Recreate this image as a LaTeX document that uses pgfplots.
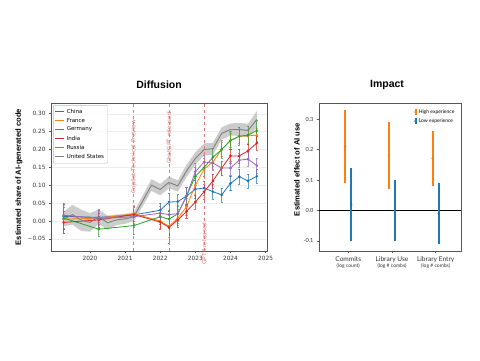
\documentclass[border=0pt]{standalone}
\usepackage{pgfplots}
\usepackage{pgfplotstable}
\pgfplotsset{compat=1.18}
\usepackage{fontspec}
\setmainfont{Liberation Sans}
\newfontfamily\dejavu{DejaVu Sans}
\newfontfamily\lato{Lato}
\definecolor{tabblue}{HTML}{1F77B4}
\definecolor{taborange}{HTML}{FF7F0E}
\definecolor{tabgreen}{HTML}{2CA02C}
\definecolor{tabred}{HTML}{D62728}
\definecolor{tabpurple}{HTML}{9467BD}
\definecolor{tabgray}{HTML}{7F7F7F}
\definecolor{axgray}{HTML}{555555}
\definecolor{evred}{HTML}{E07A7A}
\pgfplotstableread{
x y e
2019.25 0.013 0.035
2020.25 0.010 0.020
2021.25 0.017 0.025
2022.0 0.030 0.020
2022.25 0.053 0.025
2022.5 0.054 0.020
2022.75 0.070 0.025
2023.0 0.089 0.025
2023.25 0.092 0.020
2023.5 0.082 0.020
2023.75 0.073 0.020
2024.0 0.105 0.020
2024.25 0.124 0.020
2024.5 0.112 0.020
2024.75 0.125 0.020
}\chinatab
\pgfplotstableread{
x y e
2019.25 0.005 0.040
2020.25 0.008 0.020
2021.25 0.020 0.025
2022.0 0.000 0.020
2022.25 -0.015 0.030
2022.5 0.008 0.020
2022.75 0.040 0.025
2023.0 0.100 0.025
2023.25 0.145 0.020
2023.5 0.165 0.020
2023.75 0.200 0.020
2024.0 0.225 0.020
2024.25 0.237 0.020
2024.5 0.238 0.020
2024.75 0.240 0.020
}\francetab
\pgfplotstableread{
x y e
2019.25 0.008 0.030
2020.25 -0.023 0.020
2021.25 -0.013 0.025
2022.0 0.012 0.020
2022.25 0.005 0.025
2022.5 0.020 0.020
2022.75 0.070 0.025
2023.0 0.125 0.025
2023.25 0.150 0.025
2023.5 0.178 0.025
2023.75 0.200 0.025
2024.0 0.225 0.025
2024.25 0.237 0.025
2024.5 0.240 0.025
2024.75 0.253 0.030
}\germanytab
\pgfplotstableread{
x y e
2019.25 -0.004 0.030
2020.25 0.003 0.020
2021.25 0.018 0.020
2022.0 -0.003 0.020
2022.25 -0.018 0.045
2022.5 0.003 0.020
2022.75 0.027 0.020
2023.0 0.053 0.020
2023.25 0.082 0.020
2023.5 0.112 0.020
2023.75 0.148 0.020
2024.0 0.182 0.020
2024.25 0.182 0.020
2024.5 0.196 0.020
2024.75 0.218 0.020
}\indiatab
\pgfplotstableread{
x y e
2019.25 0.016 0.035
2020.25 0.007 0.025
2021.25 0.012 0.030
2022.0 0.022 0.020
2022.25 0.018 0.030
2022.5 0.020 0.025
2022.75 0.070 0.025
2023.0 0.138 0.025
2023.25 0.165 0.020
2023.5 0.162 0.020
2023.75 0.148 0.020
2024.0 0.148 0.020
2024.25 0.170 0.020
2024.5 0.173 0.020
2024.75 0.155 0.020
}\russiatab
\pgfplotstableread{
x y
2019.25 0.005
2019.5 0.018
2019.75 0.002
2020.0 -0.004
2020.25 0.012
2020.5 -0.005
2020.75 0.003
2021.0 0.006
2021.25 0.012
2021.75 0.100
2022.0 0.088
2022.25 0.108
2022.5 0.098
2022.75 0.140
2023.0 0.175
2023.25 0.200
2023.5 0.202
2023.75 0.245
2024.0 0.256
2024.25 0.256
2024.5 0.253
2024.75 0.284
}\usatab
\pgfplotstableread{
x y
2019.25 0.025
2019.5 0.045
2019.75 0.032
2020.0 0.022
2020.25 0.032
2020.5 0.015
2020.75 0.018
2021.0 0.020
2021.25 0.025
2021.75 0.117
2022.0 0.104
2022.25 0.124
2022.5 0.114
2022.75 0.157
2023.0 0.192
2023.25 0.217
2023.5 0.219
2023.75 0.262
2024.0 0.273
2024.25 0.274
2024.5 0.272
2024.75 0.307
2024.75 0.261
2024.5 0.234
2024.25 0.238
2024.0 0.239
2023.75 0.228
2023.5 0.185
2023.25 0.183
2023.0 0.158
2022.75 0.123
2022.5 0.082
2022.25 0.092
2022.0 0.072
2021.75 0.084
2021.25 -0.001
2021.0 -0.008
2020.75 -0.012
2020.5 -0.025
2020.25 -0.008
2020.0 -0.030
2019.75 -0.028
2019.5 -0.010
2019.25 -0.015
}\usabandtab
\pgfplotsset{
  series/.style={#1, mark=*, mark size=0.9pt, line width=0.8pt,
    error bars/.cd, y dir=both, y explicit,
    error bar style={#1, opacity=0.7, line width=1pt},
    error mark options={rotate=90, mark size=1.1pt, #1, opacity=0.7}},
  ebar/.style={#1, line width=2.2pt, forget plot},
}
\begin{document}
\begin{tikzpicture}
\path[use as bounding box, fill=white] (0,0) rectangle (480pt,360pt);
% ---------------- Diffusion ----------------
\begin{axis}[
  at={(51pt,109pt)}, anchor=south west,
  scale only axis, width=216pt, height=148pt,
  xmin=2018.89, xmax=2025.04, ymin=-0.084, ymax=0.33,
  xtick={2020,2021,2022,2023,2024,2025},
  ytick={-0.05,0,0.05,0.1,0.15,0.2,0.25,0.3},
  yticklabels={−0.05,0.00,0.05,0.10,0.15,0.20,0.25,0.30},
  x tick label style={/pgf/number format/1000 sep={}},
  /pgf/number format/assume math mode=true,
  tick label style={font=\dejavu\fontsize{5.8}{6}\selectfont, color=black!80},
  tick align=outside, tick pos=left, major tick length=2pt,
  axis line style={axgray, line width=0.8pt},
  every tick/.style={axgray, line width=0.5pt},
  ymajorgrids, grid style={black!7, line width=0.3pt},
  ylabel={Estimated share of AI-generated code},
  every axis y label/.style={at={(axis description cs:-0.148,0.5)}, rotate=90, anchor=center, font=\bfseries\fontsize{7.6}{8}\selectfont},
  legend style={at={(0.01,0.985)}, anchor=north west, draw=black!25, line width=0.4pt, rounded corners=1pt,
    font=\dejavu\fontsize{5.5}{6}\selectfont, row sep=-0.6pt, inner sep=1.5pt, fill=white, fill opacity=0.8, text opacity=1},
  legend cell align=left,
  legend image code/.code={\draw[#1, mark=none] (0pt,0pt) -- (9pt,0pt);},
  clip=false,
]
\addplot[fill=black!20, draw=none, forget plot] table {\usabandtab} -- cycle;
\addplot[series=tabblue] table[x=x, y=y, y error=e] {\chinatab};
\addplot[series=taborange] table[x=x, y=y, y error=e] {\francetab};
\addplot[series=tabgreen] table[x=x, y=y, y error=e] {\germanytab};
\addplot[series=tabred] table[x=x, y=y, y error=e] {\indiatab};
\addplot[series=tabpurple] table[x=x, y=y, y error=e] {\russiatab};
\addplot[tabgray, line width=0.9pt] table {\usatab};
\legend{China,France,Germany,India,Russia,United States}
\draw[evred, dashed, line width=0.8pt] (axis cs:2021.25,-0.084) -- (axis cs:2021.25,0.33);
\draw[evred, dashed, line width=0.8pt] (axis cs:2022.25,-0.084) -- (axis cs:2022.25,0.33);
\draw[evred, dashed, line width=0.8pt] (axis cs:2023.25,-0.084) -- (axis cs:2023.25,0.33);
\node[rotate=90, anchor=east, text=evred, font=\dejavu\fontsize{5.8}{6}\selectfont, inner sep=0pt] at (axis cs:2021.25,0.283) {Copilot Technical Preview};
\node[rotate=90, anchor=east, text=evred, font=\dejavu\fontsize{5.8}{6}\selectfont, inner sep=0pt] at (axis cs:2022.25,0.305) {ChatGPT released};
\node[rotate=90, anchor=east, text=evred, font=\dejavu\fontsize{5.8}{6}\selectfont, inner sep=0pt] at (axis cs:2023.25,-0.004) {GPT4 released};
\end{axis}
\node[font=\bfseries\fontsize{10.5}{11}\selectfont] at (159pt,275pt) {Diffusion};
% ---------------- Impact ----------------
\begin{axis}[
  at={(319pt,109pt)}, anchor=south west,
  scale only axis, width=142pt, height=148pt,
  xmin=-0.67, xmax=2.58, ymin=-0.133, ymax=0.353,
  xtick={0,1,2},
  xticklabels={{Commits\\{\fontsize{5}{5.5}\selectfont (log count)}},{Library Use\\{\fontsize{5}{5.5}\selectfont (log \# combs)}},{Library Entry\\{\fontsize{5}{5.5}\selectfont (log \# combs)}}},
  x tick label style={font=\lato\fontsize{6.6}{6.6}\selectfont, align=center, color=black!80},
  ytick={-0.1,0,0.1,0.2,0.3},
  yticklabels={-0.1,0.0,0.1,0.2,0.3},
  y tick label style={font=\lato\fontsize{5.6}{6}\selectfont, color=black!80},
  tick align=outside, tick pos=left, major tick length=2pt,
  axis line style={axgray, line width=0.8pt},
  every tick/.style={axgray, line width=0.5pt},
  ylabel={Estimated effect of AI use},
  every axis y label/.style={at={(axis description cs:-0.155,0.55)}, rotate=90, anchor=center, font=\bfseries\fontsize{7.6}{8}\selectfont},
  legend style={at={(0.99,0.985)}, anchor=north east, draw=none, fill=none,
    font=\lato\fontsize{5}{5.5}\selectfont, row sep=0pt},
  legend cell align=left,
  legend image code/.code={\draw[#1, mark=none, line width=2pt] (4pt,-2.8pt) -- (4pt,2.8pt); \fill[#1] (4pt,0pt) circle (1pt);},
]
\addplot[black, line width=0.6pt, forget plot] coordinates {(-0.67,0) (2.58,0)};
% High experience intervals
\addplot[ebar=taborange] coordinates {(-0.07,0.09) (-0.07,0.33)};
\addplot[ebar=taborange] coordinates {(0.93,0.07) (0.93,0.29)};
\addplot[ebar=taborange] coordinates {(1.93,0.08) (1.93,0.26)};
% Low experience intervals
\addplot[ebar=tabblue] coordinates {(0.07,-0.10) (0.07,0.14)};
\addplot[ebar=tabblue] coordinates {(1.07,-0.10) (1.07,0.10)};
\addplot[ebar=tabblue] coordinates {(2.07,-0.11) (2.07,0.09)};
\addplot[taborange, only marks, mark=*, mark size=0.9pt, mark options={fill=taborange!70!black}]
  coordinates {(-0.07,0.21) (0.93,0.18) (1.93,0.17)};
\addplot[tabblue, only marks, mark=*, mark size=0.9pt, mark options={fill=tabblue!70!black}]
  coordinates {(0.07,0.02) (1.07,0.0) (2.07,-0.01)};
\legend{High experience,Low experience}
\end{axis}
\node[font=\bfseries\fontsize{10.5}{11}\selectfont] at (387pt,275pt) {Impact};
\end{tikzpicture}
\end{document}
